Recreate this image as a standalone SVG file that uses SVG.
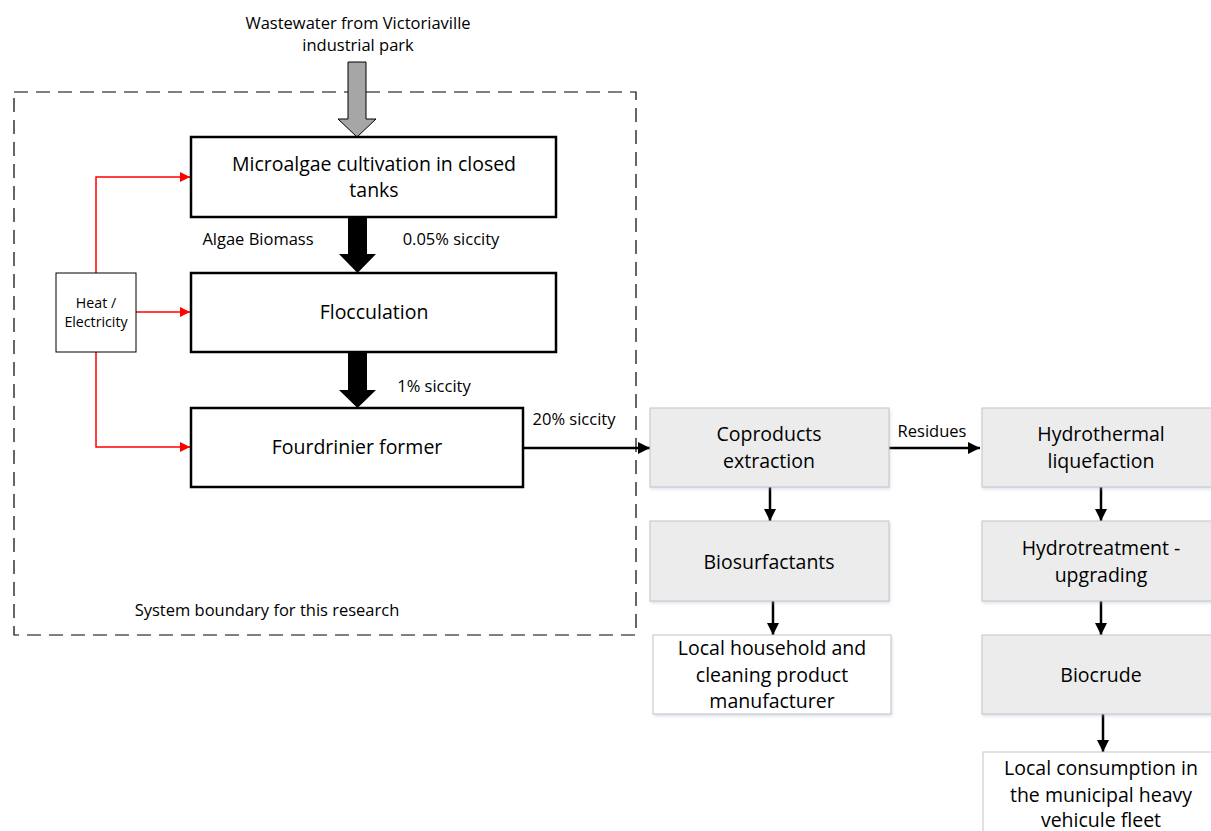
<svg xmlns="http://www.w3.org/2000/svg" width="1211" height="831" viewBox="0 0 1211 831">
<style>
text{font-family:"Open Sans","Noto Sans",sans-serif;fill:#000;text-anchor:middle}
.b{font-size:19.5px}
.s{font-size:16.5px}
.xs{font-size:14.2px}
.main{fill:#fff;stroke:#000;stroke-width:2.5}
.gray{fill:#ececec;stroke:#c4c4c4;stroke-width:1}
.white{fill:#fff;stroke:#c4c4c4;stroke-width:1}
.blk{stroke:#000;stroke-width:2.5;fill:none}
.red{stroke:#f00;stroke-width:1.5;fill:none}
</style>
<defs>
<marker id="ab" viewBox="0 0 10 10" refX="10" refY="5" markerWidth="5" markerHeight="5" markerUnits="strokeWidth" orient="auto"><path d="M0,0L10,5L0,10z" fill="#000"/></marker>
<marker id="ar" viewBox="0 0 10 10" refX="10" refY="5" markerWidth="7" markerHeight="7" markerUnits="strokeWidth" orient="auto"><path d="M0,0L10,5L0,10z" fill="#f00"/></marker>
<filter id="sh" x="-5%" y="-5%" width="115%" height="120%"><feDropShadow dx="1" dy="2" stdDeviation="1.5" flood-color="#9fb4d0" flood-opacity="0.35"/></filter>
</defs>
<rect x="14" y="92" width="622" height="543" fill="none" stroke="#000" stroke-width="1.2" stroke-dasharray="14,8"/>
<text class="s" x="267" y="616">System boundary for this research</text>
<text class="s" x="358" y="29">Wastewater from Victoriaville</text>
<text class="s" x="358" y="51">industrial park</text>
<g id="connectors">
<path d="M348,62H366V119H376L357,137L338,119H348Z" fill="#a6a6a6" stroke="#000" stroke-width="1"/>
<path d="M348,217H367V254H376L357.5,273L339,254H348Z" fill="#000"/>
<path d="M348,352H367V390H376L357.5,408L339,390H348Z" fill="#000"/>
<path class="red" d="M96,273V177H190" marker-end="url(#ar)"/>
<path class="red" d="M136,312H190" marker-end="url(#ar)"/>
<path class="red" d="M96,352V447H190" marker-end="url(#ar)"/>
<path class="blk" d="M523,448H650" marker-end="url(#ab)"/>
<path class="blk" d="M889,448H980" marker-end="url(#ab)"/>
<path class="blk" d="M770,487V521" marker-end="url(#ab)"/>
<path class="blk" d="M773,601V635" marker-end="url(#ab)"/>
<path class="blk" d="M1101,487V521" marker-end="url(#ab)"/>
<path class="blk" d="M1101,601V635" marker-end="url(#ab)"/>
<path class="blk" d="M1103,714V752" marker-end="url(#ab)"/>
</g>
<text class="s" x="258" y="245">Algae Biomass</text>
<text class="s" x="451" y="245">0.05% siccity</text>
<text class="s" x="434" y="392">1% siccity</text>
<text class="s" x="574" y="425">20% siccity</text>
<text class="s" x="932" y="437">Residues</text>
<g id="cultivation"><rect class="main" x="191" y="137" width="365" height="80"/>
<text class="b" x="374" y="171">Microalgae cultivation in closed</text><text class="b" x="374" y="197">tanks</text></g>
<g id="flocculation"><rect class="main" x="191" y="273" width="365" height="79"/>
<text class="b" x="374" y="319">Flocculation</text></g>
<g id="fourdrinier"><rect class="main" x="191" y="408" width="332" height="79"/>
<text class="b" x="357" y="454">Fourdrinier former</text></g>
<g id="heat"><rect x="56" y="273" width="80" height="79" fill="#fff" stroke="#000" stroke-width="1"/>
<text class="xs" x="96" y="308">Heat /</text><text class="xs" x="96" y="327">Electricity</text></g>
<g id="coproducts"><rect class="gray" filter="url(#sh)" x="650" y="408" width="239" height="79"/>
<text class="b" x="769" y="441">Coproducts</text><text class="b" x="769" y="468">extraction</text></g>
<g id="biosurfactants"><rect class="gray" filter="url(#sh)" x="650" y="521" width="239" height="80"/>
<text class="b" x="769" y="569">Biosurfactants</text></g>
<g id="household"><rect class="white" filter="url(#sh)" x="653" y="635" width="238" height="79"/>
<text class="b" x="772" y="655">Local household and</text><text class="b" x="772" y="682">cleaning product</text><text class="b" x="772" y="708">manufacturer</text></g>
<g id="htl"><rect class="gray" filter="url(#sh)" x="982" y="408" width="240" height="79"/>
<text class="b" x="1101" y="441">Hydrothermal</text><text class="b" x="1101" y="468">liquefaction</text></g>
<g id="hydrotreatment"><rect class="gray" filter="url(#sh)" x="982" y="521" width="240" height="80"/>
<text class="b" x="1101" y="555">Hydrotreatment -</text><text class="b" x="1101" y="582">upgrading</text></g>
<g id="biocrude"><rect class="gray" filter="url(#sh)" x="982" y="635" width="240" height="79"/>
<text class="b" x="1101" y="682">Biocrude</text></g>
<g id="consumption"><rect class="white" x="983" y="752" width="240" height="90"/>
<text class="b" x="1101" y="775">Local consumption in</text><text class="b" x="1101" y="802">the municipal heavy</text><text class="b" x="1101" y="827">vehicule fleet</text></g>
</svg>
